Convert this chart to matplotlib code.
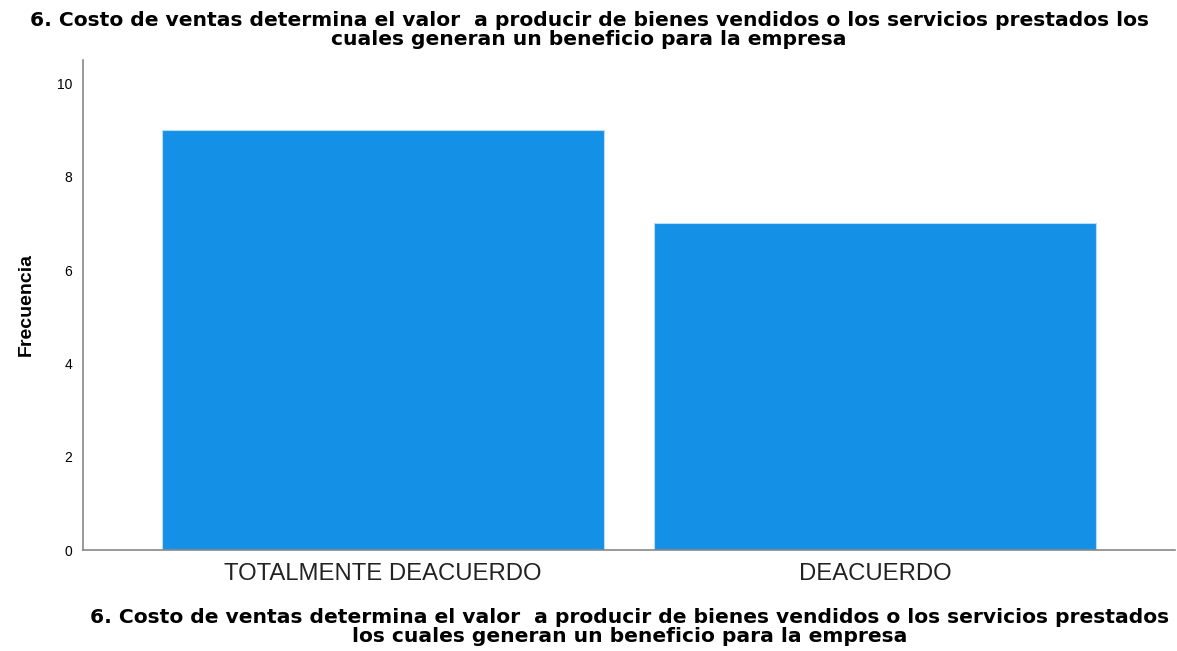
import matplotlib
matplotlib.use("Agg")
import matplotlib.pyplot as plt

plt.rcParams['font.family'] = ['Liberation Sans', 'DejaVu Sans']

# datos
categorias = ["TOTALMENTE DEACUERDO", "DEACUERDO"]
frecuencias = [9, 7]
yticks = [0, 2, 4, 6, 8, 10]
titulo = ("6. Costo de ventas determina el valor  a producir de bienes vendidos o los servicios prestados los\n"
          "cuales generan un beneficio para la empresa")
xtitulo = ("6. Costo de ventas determina el valor  a producir de bienes vendidos o los servicios prestados\n"
           "los cuales generan un beneficio para la empresa")

fig = plt.figure(figsize=(11.77, 6.51), dpi=100)
ax = fig.add_axes([83/1177, 101/651, 1092/1177, 490/651])

x = range(len(categorias))
ax.bar(x, frecuencias, width=0.9, color='#1490e6', edgecolor='#b8dcf7', linewidth=0.8)

ax.set_xlim(-0.61, 1.61)
ax.set_ylim(0, 10.5)
ax.set_yticks(yticks)
ax.set_yticklabels([str(v) for v in yticks], fontsize=10)
ax.set_xticks(list(x))
ax.set_xticklabels(categorias, fontsize=17.2, color='#222222')
ax.tick_params(axis='both', length=0)
ax.tick_params(axis='y', pad=8)
ax.tick_params(axis='x', pad=9)

for s in ['top', 'right']:
    ax.spines[s].set_visible(False)
for s in ['left', 'bottom']:
    ax.spines[s].set_color('#888888')
    ax.spines[s].set_linewidth(1.2)

ax.set_ylabel("Frecuencia", fontsize=14, fontweight='bold', labelpad=16)
fig.text(589/1177, 1 - 30/651, titulo, ha='center', va='center', fontsize=14.6,
         fontweight='bold', linespacing=1.0, family=['DejaVu Sans'])
fig.text(630/1177, 1 - 627/651, xtitulo, ha='center', va='center', fontsize=14.6,
         fontweight='bold', linespacing=1.0, family=['DejaVu Sans'])

fig.savefig("out.png", dpi=100)
